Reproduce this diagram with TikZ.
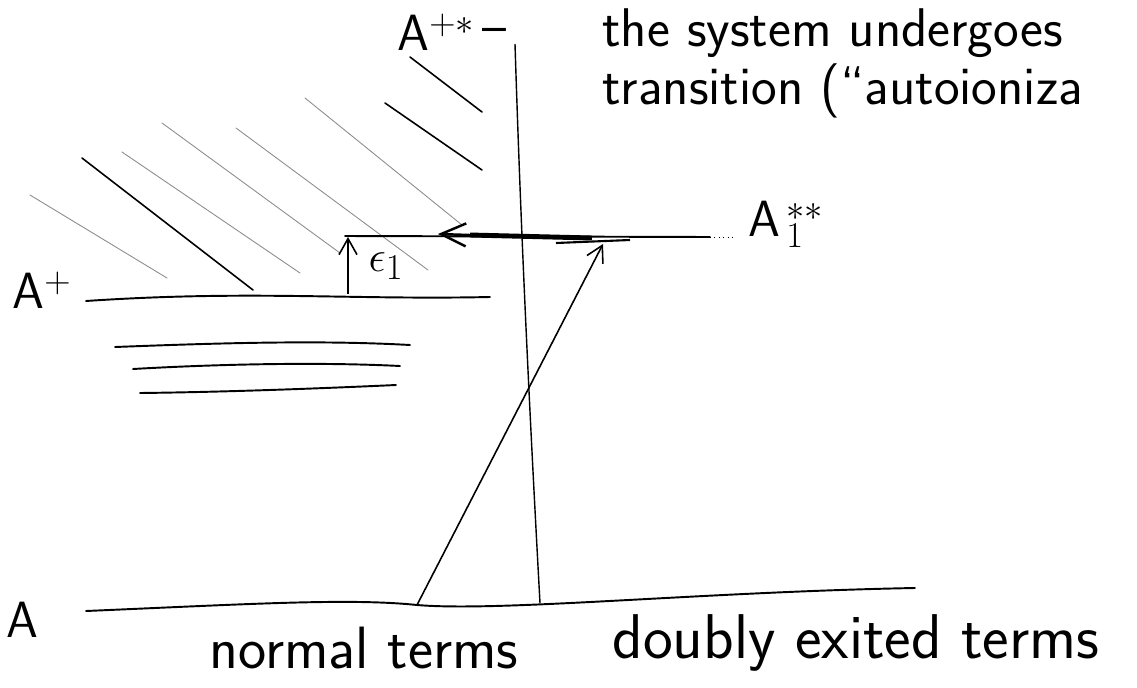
\documentclass[tikz,border=0pt]{standalone}
\usetikzlibrary{arrows.meta}
\tikzset{
  level/.style={line width=1.1pt, draw=black, line cap=round},
  hatchdark/.style={line width=0.9pt, draw=black, line cap=round},
  hatchsoft/.style={line width=0.5pt, draw=black!45, line cap=round},
  flow/.style={-{Straight Barb[length=3.2mm, width=3.6mm]}, line width=0.9pt, draw=black},
  bigflow/.style={-{Straight Barb[length=5mm, width=4.6mm]}, line width=1.4pt, draw=black},
  lbl/.style={font=\sffamily\fontsize{29}{33}\selectfont, inner sep=0pt},
  note/.style={font=\sffamily\fontsize{31}{33}\selectfont, inner sep=0pt, align=left, anchor=north west}
}
\begin{document}
\begin{tikzpicture}[x=0.02cm, y=-0.02cm]
\useasboundingbox (0,0) rectangle (1137,687);
\clip (0,0) rectangle (1137,687);

% Heading note.
\node[lbl] (aplusstar) at (436,32) {A$^{+*}$};
\node[lbl] (dash) at (494,36) {--};
\node[note] (note) at (602,8) {the system undergoes\\transition (``autoioniza};

% Hatched continuum above A+.
\foreach \xa/\ya/\xb/\yb in {410/57/482/112, 385/103/482/170, 82/158/253/290} {
  \draw[hatchdark] (\xa,\ya) -- (\xb,\yb);
}
\foreach \xa/\ya/\xb/\yb in {305/98/462/225, 236/128/428/270, 162/123/340/253, 122/152/300/273, 30/195/167/278} {
  \draw[hatchsoft] (\xa,\ya) -- (\xb,\yb);
}

% Separator between normal and doubly excited terms.
\coordinate (septop) at (515,44);
\coordinate (sepbot) at (540,603);
\draw[line width=0.8pt] (septop) .. controls (519,170) and (525,330) .. (sepbot);

% Levels.
\coordinate (aplusL) at (86,301);
\coordinate (aplusR) at (490,297);
\draw[level] (aplusL) .. controls (250,290) and (350,300) .. (aplusR);
\node[lbl] (aplus) at (42,290) {A$^{+}$};

\coordinate (b1L) at (115,347);
\coordinate (b1R) at (410,345);
\coordinate (b2L) at (133,369);
\coordinate (b2R) at (400,366);
\coordinate (b3L) at (140,393);
\coordinate (b3R) at (396,385);
\draw[level] (b1L) .. controls (220,343) and (320,340) .. (b1R);
\draw[level] (b2L) .. controls (220,364) and (320,362) .. (b2R);
\draw[level] (b3L) .. controls (230,392) and (330,388) .. (b3R);

\coordinate (groundL) at (86,611);
\coordinate (foot) at (417,605);
\coordinate (groundR) at (915,588);
\draw[level] (groundL) .. controls (250,604) and (350,598) .. (foot)
  .. controls (500,612) and (700,592) .. (groundR);
\node[lbl] (ground) at (22,620) {A};

% Doubly excited level and its decay.
\coordinate (starL) at (345,236);
\coordinate (starR) at (710,237);
\coordinate (thickL) at (470,235);
\coordinate (thickR) at (592,238);
\coordinate (decay) at (438,234);
\coordinate (head) at (603,244);
\draw[level] (starL) -- (starR);
\draw[line width=0.5pt, dotted] (starR) -- ++(22,0);
\draw[line width=2.8pt] (thickL) -- (thickR);
\draw[line width=1.2pt] (556,243) -- (630,240);
\draw[bigflow] (thickL) -- (decay);
\node[lbl] (astar) at (786,224) {A$_{\,1}^{\,**}$};

% Excitation and gap.
\draw[flow] (foot) -- (head);
\coordinate (gapbot) at (348,294);
\coordinate (gaptop) at (348,237);
\draw[flow] (gapbot) -- (gaptop);
\node[lbl] (eps) at (386,266) {$\epsilon_1$};

% Region labels.
\node[lbl, font=\sffamily\fontsize{34}{38}\selectfont] (normal) at (364,648) {normal terms};
\node[lbl, font=\sffamily\fontsize{36}{40}\selectfont] (doubly) at (856,643) {doubly exited terms};

\end{tikzpicture}
\end{document}
